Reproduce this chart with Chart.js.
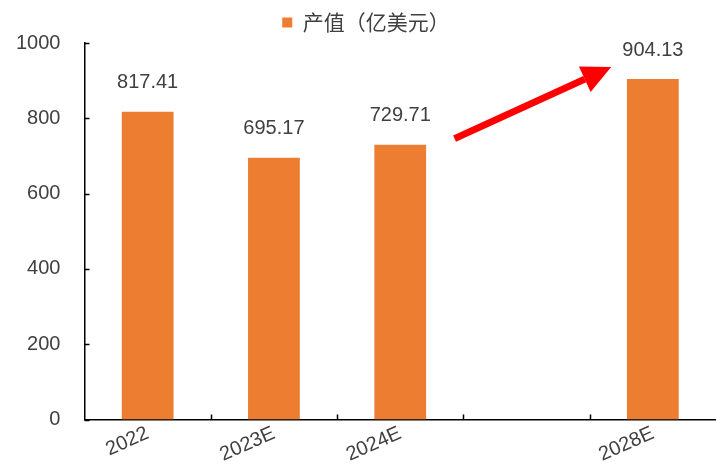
<!DOCTYPE html>
<html>
<head>
<meta charset="utf-8">
<script src="https://cdn.jsdelivr.net/npm/chart.js@4.4.0/dist/chart.umd.min.js"></script>
<style>
  html, body { margin: 0; padding: 0; background: #fff; }
  #wrap { width: 716px; height: 469px; }
</style>
</head>
<body>
<div id="wrap"><canvas id="chart" width="716" height="469"></canvas></div>
<script>
// data
const categories = ['2022', '2023E', '2024E', '', '2028E'];
const outputValues = [817.41, 695.17, 729.71, null, 904.13];
const seriesName = '产值（亿美元）';
const yTicks = [0, 200, 400, 600, 800, 1000];
// arrow in data space: [category index, value]
const arrowFrom = [2.43, 746];
const arrowTo = [3.67, 936];

const textColor = '#404040';
const barColor = '#ED7D31';
const baseFont = "'Liberation Sans', Arial, sans-serif";

// value labels above the bars
const valueLabels = {
    id: 'valueLabels',
    afterDatasetsDraw(chart) {
        const ctx = chart.ctx;
        const meta = chart.getDatasetMeta(0);
        ctx.save();
        ctx.fillStyle = textColor;
        ctx.font = '20px ' + baseFont;
        ctx.textAlign = 'center';
        ctx.textBaseline = 'bottom';
        meta.data.forEach((bar, i) => {
            const v = outputValues[i];
            if (v == null) return;
            ctx.fillText(v.toFixed(2), bar.x, bar.y - 19);
        });
        ctx.restore();
    }
};

// tick marks drawn inside the plot, plus the red trend arrow
const axisMarks = {
    id: 'axisMarks',
    afterDraw(chart) {
        const ctx = chart.ctx;
        const x = chart.scales.x;
        const y = chart.scales.y;
        ctx.save();
        ctx.strokeStyle = '#000';
        ctx.lineWidth = 1.5;
        ctx.beginPath();
        yTicks.forEach(t => {
            const py = Math.round(y.getPixelForValue(t)) + 0.5;
            ctx.moveTo(x.left, py);
            ctx.lineTo(x.left + 5, py);
        });
        for (let i = 1; i < categories.length; i++) {
            const px = Math.round(x.getPixelForValue(i - 0.5)) + 0.5;
            ctx.moveTo(px, y.bottom);
            ctx.lineTo(px, y.bottom - 5);
        }
        ctx.stroke();

        // arrow
        const x1 = x.getPixelForValue(arrowFrom[0]);
        const y1 = y.getPixelForValue(arrowFrom[1]);
        const x2 = x.getPixelForValue(arrowTo[0]);
        const y2 = y.getPixelForValue(arrowTo[1]);
        const ang = Math.atan2(y2 - y1, x2 - x1);
        const headLen = 29, headW = 14;
        const bx = x2 - headLen * Math.cos(ang);
        const by = y2 - headLen * Math.sin(ang);
        ctx.strokeStyle = '#FF0000';
        ctx.fillStyle = '#FF0000';
        ctx.lineWidth = 7;
        ctx.beginPath();
        ctx.moveTo(x1, y1);
        ctx.lineTo(bx, by);
        ctx.stroke();
        ctx.beginPath();
        ctx.moveTo(x2, y2);
        ctx.lineTo(bx + headW * Math.sin(ang), by - headW * Math.cos(ang));
        ctx.lineTo(bx - headW * Math.sin(ang), by + headW * Math.cos(ang));
        ctx.closePath();
        ctx.fill();
        ctx.restore();
    }
};

new Chart(document.getElementById('chart'), {
    type: 'bar',
    data: {
        labels: categories,
        datasets: [{
            label: seriesName,
            data: outputValues,
            backgroundColor: barColor,
            barPercentage: 0.41,
            categoryPercentage: 1.0
        }]
    },
    options: {
        responsive: false,
        animation: false,
        layout: { padding: { left: 16, right: 0, top: 4, bottom: 0 } },
        plugins: {
            legend: {
                display: true,
                position: 'top',
                labels: {
                    color: textColor,
                    boxWidth: 10,
                    boxHeight: 10,
                    padding: 8,
                    font: { family: "'Noto Sans CJK SC', sans-serif", size: 21 }
                }
            },
            tooltip: { enabled: false }
        },
        scales: {
            x: {
                grid: { display: false, drawTicks: false },
                border: { display: true, color: '#000', width: 1.5 },
                ticks: {
                    color: textColor,
                    font: { family: baseFont, size: 20 },
                    minRotation: 24,
                    maxRotation: 24,
                    padding: 2,
                    autoSkip: false
                },
                afterFit: s => { s.paddingLeft = 0; s.paddingRight = 0; }
            },
            y: {
                min: 0,
                max: 1000,
                grid: { display: false, drawTicks: false },
                border: { display: true, color: '#000', width: 1.5 },
                ticks: {
                    stepSize: 200,
                    color: textColor,
                    font: { family: baseFont, size: 20 },
                    padding: 24,
                    callback: v => String(v)
                },
                // padding gets counted twice in the width, take one back out
                afterFit: s => { s.width -= s.options.ticks.padding; }
            }
        }
    },
    plugins: [valueLabels, axisMarks]
});
</script>
</body>
</html>
